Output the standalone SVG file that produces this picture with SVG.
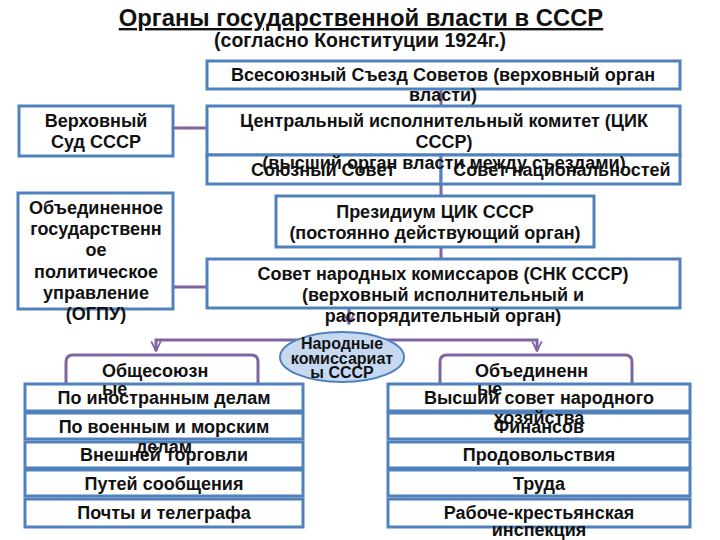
<svg xmlns="http://www.w3.org/2000/svg" width="720" height="540" viewBox="0 0 720 540">
<style>
.box{fill:#fff;stroke:#4F81BD;stroke-width:3}
.t{font-family:"Liberation Sans",Arial,sans-serif;font-weight:bold;font-size:18px;fill:#111;text-anchor:middle}
.tl{font-family:"Liberation Sans",Arial,sans-serif;font-weight:bold;font-size:18px;fill:#111}
.te{font-family:"Liberation Sans",Arial,sans-serif;font-weight:bold;font-size:16px;fill:#111;text-anchor:middle}
.c{fill:none;stroke:#8064A2;stroke-width:3}
</style>
<defs>
<marker id="arr" viewBox="0 0 10 10" refX="9" refY="5" markerWidth="4" markerHeight="4" orient="auto" markerUnits="strokeWidth">
<path d="M1,1 L9,5 L1,9" fill="none" stroke="#8064A2" stroke-width="1.5"/>
</marker>
</defs>
<rect width="720" height="540" fill="#fff"/>
<g id="title">
<text x="361" y="26" style="font-family:'Liberation Sans',Arial,sans-serif;font-weight:bold;font-size:23.8px;fill:#111;text-anchor:middle;text-decoration:underline">Органы государственной власти в СССР</text>
<text x="360" y="47" style="font-family:'Liberation Sans',Arial,sans-serif;font-weight:bold;font-size:19.5px;fill:#111;text-anchor:middle">(согласно Конституции 1924г.)</text>
</g>
<g id="connectors">
<line class="c" x1="441" y1="89" x2="441" y2="106"/>
<line class="c" x1="173" y1="128" x2="207" y2="128"/>
<line class="c" x1="441" y1="184" x2="441" y2="196"/>
<line class="c" x1="441" y1="247" x2="441" y2="259"/>
<line class="c" x1="173" y1="287" x2="207" y2="287"/>
<line class="c" x1="349" y1="308" x2="349" y2="324" marker-end="url(#arr)"/>
<path class="c" d="M349,340 H156 V351" marker-end="url(#arr)"/>
<path class="c" d="M349,340 H537 V351" marker-end="url(#arr)"/>
<path class="c" d="M66,383 V362 Q66,355 73,355 H251 Q258,355 258,362 V383"/>
<path class="c" d="M440,383 V362 Q440,355 447,355 H625 Q632,355 632,362 V383"/>
</g>
<g id="congress">
<rect class="box" x="207" y="61" width="473" height="28"/>
<text class="t" x="443" y="81">Всесоюзный Съезд Советов (верховный орган</text>
<text class="t" x="443" y="101">власти)</text>
</g>
<g id="court">
<rect class="box" x="19" y="106" width="154" height="50"/>
<text class="t" x="96" y="127">Верховный</text>
<text class="t" x="96" y="148">Суд СССР</text>
</g>
<g id="tsik">
<rect class="box" x="207" y="106" width="473" height="49"/>
<text class="t" x="444" y="127">Центральный исполнительный комитет (ЦИК</text>
<text class="t" x="444" y="148">СССР)</text>
</g>
<g id="union-soviet">
<rect class="box" x="207" y="155" width="234" height="29"/>
<text class="t" x="323" y="176">Союзный Совет</text>
</g>
<g id="nationalities-soviet">
<rect class="box" x="441" y="155" width="239" height="29"/>
<text class="t" x="562" y="176">Совет национальностей</text>
</g>
<text class="t" x="444" y="169">(высший орган власти между съездами)</text>
<g id="presidium">
<rect class="box" x="276" y="196" width="318" height="51"/>
<text class="t" x="435" y="218">Президиум ЦИК СССР</text>
<text class="t" x="435" y="239">(постоянно действующий орган)</text>
</g>
<g id="ogpu">
<rect class="box" x="18" y="193" width="155" height="116"/>
<text class="t" x="96" y="214">Объединенное</text>
<text class="t" x="96" y="235">государственн</text>
<text class="t" x="96" y="256">ое</text>
<text class="t" x="96" y="278">политическое</text>
<text class="t" x="96" y="299">управление</text>
<text class="t" x="96" y="320">(ОГПУ)</text>
</g>
<g id="snk">
<rect class="box" x="207" y="259" width="473" height="49"/>
<text class="t" x="443" y="280">Совет народных комиссаров (СНК СССР)</text>
<text class="t" x="443" y="301">(верховный исполнительный и</text>
<text class="t" x="443" y="322">распорядительный орган)</text>
</g>
<g id="commissariats">
<ellipse cx="342" cy="357" rx="62" ry="25" fill="#C6D9F1" stroke="#4F81BD" stroke-width="2"/>
<text class="te" x="342" y="349">Народные</text>
<text class="te" x="342" y="364">комиссариат</text>
<text class="te" x="342" y="378">ы СССР</text>
</g>
<g id="all-union-list">
<rect class="box" x="25" y="384" width="278" height="27"/>
<text class="t" x="164" y="404">По иностранным делам</text>
<rect class="box" x="25" y="413" width="278" height="26"/>
<text class="t" x="164" y="433">По военным и морским</text>
<rect class="box" x="25" y="442" width="278" height="26"/>
<text class="t" x="164" y="461">Внешней торговли</text>
<rect class="box" x="25" y="470" width="278" height="26"/>
<text class="t" x="164" y="490">Путей сообщения</text>
<rect class="box" x="25" y="499" width="278" height="28"/>
<text class="t" x="164" y="519">Почты и телеграфа</text>
<text class="t" x="164" y="453">делам</text>
</g>
<g id="united-list">
<rect class="box" x="388" y="384" width="302" height="27"/>
<text class="t" x="539" y="404">Высший совет народного</text>
<rect class="box" x="388" y="413" width="302" height="26"/>
<text class="t" x="539" y="433">Финансов</text>
<text class="t" x="539" y="424">хозяйства</text>
<rect class="box" x="388" y="442" width="302" height="26"/>
<text class="t" x="539" y="461">Продовольствия</text>
<rect class="box" x="388" y="470" width="302" height="26"/>
<text class="t" x="539" y="490">Труда</text>
<rect class="box" x="388" y="499" width="302" height="28"/>
<text class="t" x="539" y="519">Рабоче-крестьянская</text>
<text class="t" x="539" y="536">инспекция</text>
</g>
<g id="all-union-label">
<text class="tl" x="102" y="377">Общесоюзн</text>
<text class="tl" x="102" y="395">ые</text>
</g>
<g id="united-label">
<text class="tl" x="475" y="377">Объединенн</text>
<text class="tl" x="477" y="395">ые</text>
</g>
</svg>
